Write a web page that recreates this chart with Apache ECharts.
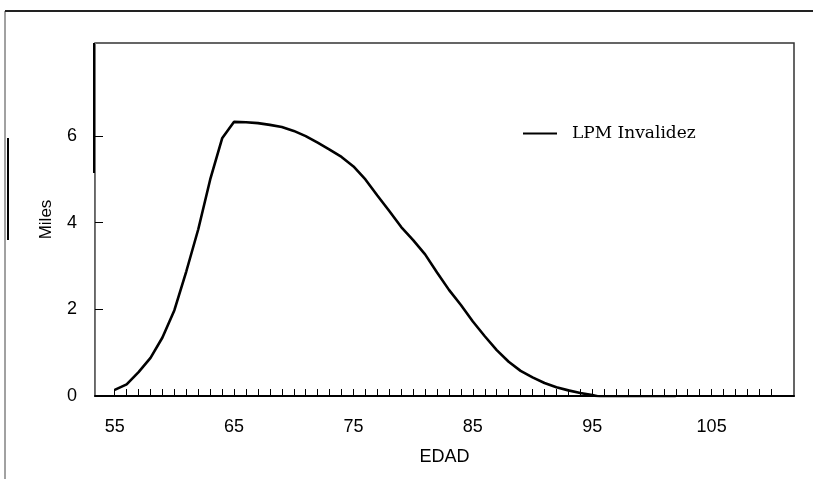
<!DOCTYPE html>
<html>
<head>
<meta charset="utf-8">
<script src="https://cdn.jsdelivr.net/npm/echarts@6/dist/echarts.min.js"></script>
<style>
  html, body { margin: 0; padding: 0; background: #fff; }
  #chart { width: 813px; height: 479px; }
</style>
</head>
<body>
<div id="chart"></div>
<script>
// edades (anos) y valores en miles
var edades = [55, 56, 57, 58, 59, 60, 61, 62, 63, 64, 65, 66, 67, 68, 69, 70, 71, 72, 73, 74,
  75, 76, 77, 78, 79, 80, 81, 82, 83, 84, 85, 86, 87, 88, 89, 90, 91, 92, 93, 94,
  95, 96, 97, 98, 99, 100, 101, 102];
var lpmInvalidez = [0.14, 0.27, 0.55, 0.88, 1.35, 1.98, 2.88, 3.85, 5.0, 5.95, 6.33, 6.32, 6.3, 6.26, 6.21, 6.12, 6.0, 5.85, 5.69, 5.52,
  5.3, 5.0, 4.63, 4.27, 3.9, 3.6, 3.27, 2.85, 2.45, 2.1, 1.72, 1.38, 1.06, 0.79, 0.58, 0.43, 0.3, 0.2, 0.13, 0.07,
  0.02, -0.04, -0.04, -0.04, -0.04, -0.04, -0.04, -0.04];
var xLabels = [55, 65, 75, 85, 95, 105];
var xTicks = [];
for (var t = 55; t <= 110; t++) xTicks.push(t);
var yLabels = [0, 2, 4, 6];

var puntos = [];
for (var i = 0; i < edades.length; i++) {
  puntos.push([edades[i], lpmInvalidez[i]]);
}

var myChart = echarts.init(document.getElementById('chart'));
var option = {
  animation: false,
  backgroundColor: '#fff',
  grid: {
    left: 95, top: 43, right: 19, bottom: 83,
    show: true, borderColor: '#333', borderWidth: 1.5
  },
  legend: {
    left: 518, top: 120,
    itemWidth: 34, itemHeight: 2, icon: 'rect',
    data: ['LPM Invalidez'],
    textStyle: { fontFamily: 'DejaVu Serif', fontSize: 17, color: '#000', padding: [0, 0, 0, 10] }
  },
  xAxis: {
    type: 'value',
    min: 53.35, max: 111.9,
    name: 'EDAD', nameLocation: 'middle', nameGap: 52,
    nameTextStyle: { fontFamily: 'Liberation Sans', fontSize: 18, color: '#000', verticalAlign: 'top' },
    axisLine: { lineStyle: { color: '#000', width: 2 } },
    axisTick: { inside: true, length: 7, customValues: xTicks, lineStyle: { color: '#000', width: 1 } },
    axisLabel: { customValues: xLabels, margin: 22, fontFamily: 'Liberation Sans', fontSize: 18, color: '#000' },
    splitLine: { show: false }
  },
  yAxis: {
    type: 'value',
    min: 0, max: 8.15,
    name: 'Miles', nameLocation: 'middle', nameGap: 40, nameRotate: 90,
    nameTextStyle: { fontFamily: 'Liberation Sans', fontSize: 17, color: '#000' },
    axisLine: { show: true, lineStyle: { color: '#777', width: 1 } },
    axisTick: { show: true, inside: true, length: 8, customValues: yLabels, lineStyle: { color: '#000' } },
    axisLabel: { customValues: yLabels, margin: 18, fontFamily: 'Liberation Sans', fontSize: 18, color: '#000' },
    splitLine: { show: false }
  },
  series: [{
    name: 'LPM Invalidez',
    type: 'line',
    data: puntos,
    showSymbol: false,
    color: '#000',
    lineStyle: { color: '#000', width: 2.6 }
  }],
  graphic: [
    { type: 'rect', shape: { x: 5, y: 11, width: 900, height: 600 }, style: { fill: 'none', stroke: '#444', lineWidth: 1 }, silent: true },
    { type: 'line', shape: { x1: 5, y1: 11, x2: 813, y2: 11 }, style: { stroke: '#222', lineWidth: 2 }, silent: true },
    { type: 'line', shape: { x1: 8, y1: 138, x2: 8, y2: 240 }, style: { stroke: '#000', lineWidth: 2 }, silent: true },
    { type: 'line', shape: { x1: 94, y1: 43, x2: 94, y2: 173 }, style: { stroke: '#000', lineWidth: 2 }, silent: true }
  ]
};
myChart.setOption(option);
</script>
</body>
</html>
